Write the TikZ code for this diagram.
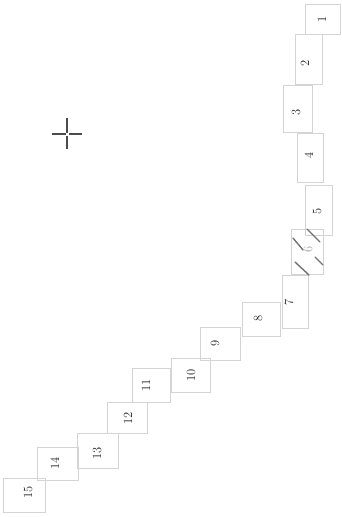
\documentclass[tikz,border=0pt]{standalone}
\usepackage{graphicx}
\begin{document}
\begin{tikzpicture}[x=1pt,y=-1pt,
  pagebox/.style={draw=black!17, line width=0.9pt, inner sep=0pt},
  numlabel/.style={inner sep=0pt, font=\fontsize{12.5}{14}\selectfont, text=black!85},
  hatch/.style={draw=black!55, line width=1.4pt, line cap=round},
  cross/.style={draw=black!70, line width=1.5pt}]
\useasboundingbox (0,0) rectangle (342,517);
\fill[white] (0,0) rectangle (342,517);
% boxes
\node[pagebox, minimum width=35pt, minimum height=30pt] (b1) at (322.5,19) {};
\node[pagebox, minimum width=27pt, minimum height=50pt] (b2) at (308.5,59) {};
\node[pagebox, minimum width=29pt, minimum height=47pt] (b3) at (297.5,108.5) {};
\node[pagebox, minimum width=26pt, minimum height=49pt] (b4) at (310,157.5) {};
\node[pagebox, minimum width=27pt, minimum height=50pt] (b5) at (318.5,210) {};
\node[pagebox, minimum width=32pt, minimum height=45pt] (b6) at (307,252) {};
\node[pagebox, minimum width=26pt, minimum height=53pt] (b7) at (295,301.5) {};
\node[pagebox, minimum width=38pt, minimum height=34pt] (b8) at (261,319) {};
\node[pagebox, minimum width=40pt, minimum height=33pt] (b9) at (220,343.5) {};
\node[pagebox, minimum width=39pt, minimum height=34pt] (b10) at (190.5,375) {};
\node[pagebox, minimum width=38pt, minimum height=34pt] (b11) at (151,385) {};
\node[pagebox, minimum width=40pt, minimum height=31pt] (b12) at (127,417.5) {};
\node[pagebox, minimum width=41pt, minimum height=35pt] (b13) at (97.5,450.5) {};
\node[pagebox, minimum width=41pt, minimum height=33pt] (b14) at (57.5,463.5) {};
\node[pagebox, minimum width=42pt, minimum height=34pt] (b15) at (24,495) {};
% labels
\node[numlabel] (t1) at (322,19) {\rotatebox{90}{1}};
\node[numlabel] (t2) at (305,63) {\rotatebox{90}{2}};
\node[numlabel] (t3) at (296,112) {\rotatebox{90}{3}};
\node[numlabel] (t4) at (309,155) {\rotatebox{90}{4}};
\node[numlabel] (t5) at (317,211) {\rotatebox{90}{5}};
\node[numlabel, text=black!35] (t6) at (308,249) {\rotatebox{90}{6}};
\node[numlabel] (t7) at (289,302) {\rotatebox{90}{7}};
\node[numlabel] (t8) at (258,318) {\rotatebox{90}{8}};
\node[numlabel] (t9) at (215,343) {\rotatebox{90}{9}};
\node[numlabel] (t10) at (191,375) {\rotatebox{90}{10}};
\node[numlabel] (t11) at (146,385) {\rotatebox{90}{11}};
\node[numlabel] (t12) at (128,418) {\rotatebox{90}{12}};
\node[numlabel] (t13) at (97,453) {\rotatebox{90}{13}};
\node[numlabel] (t14) at (55,463) {\rotatebox{90}{14}};
\node[numlabel] (t15) at (28,492) {\rotatebox{90}{15}};
% hatching on box 6
\draw[hatch] (307,229) -- (320,242);
\draw[hatch] (293,238) -- (303,250);
\draw[hatch] (315,257) -- (323,265);
\draw[hatch] (295,262) -- (309,275);
% crosshair
\coordinate (c) at (67,134);
\draw[cross] (52,134) -- (65.5,134);
\draw[cross] (68.5,134) -- (82,134);
\draw[cross] (67,118) -- (67,132.5);
\draw[cross] (67,135.5) -- (67,149);
\end{tikzpicture}
\end{document}
